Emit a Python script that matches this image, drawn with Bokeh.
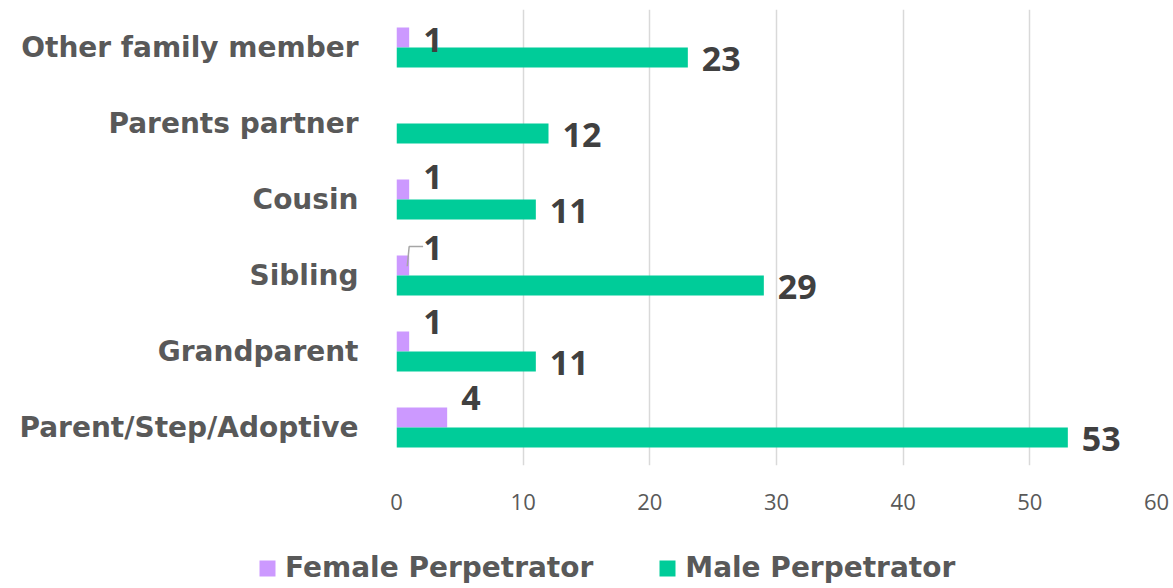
from bokeh.plotting import figure
from bokeh.layouts import column
from bokeh.models import ColumnDataSource, FactorRange, Range1d, Legend, LegendItem, FixedTicker
from bokeh.transform import dodge
from bokeh.core.properties import value
from bokeh.embed import file_html
from bokeh.resources import INLINE

# ---- data (bottom to top) ----
categories = ["Parent/Step/Adoptive", "Grandparent", "Sibling", "Cousin",
              "Parents partner", "Other family member"]
female = [4, 1, 1, 1, None, 1]
male = [53, 11, 29, 11, 12, 23]
x_ticks = [0, 10, 20, 30, 40, 50, 60]
series_names = ["Female Perpetrator", "Male Perpetrator"]

# ---- styling ----
FEMALE_COLOR = "#CC99FF"
MALE_COLOR = "#00CC99"
BAR_H = 0.263
DODGE = 0.1316
female_label_dy = [-19, -19, -17, -12, 0, 3]   # label placement tweaks (px)
male_label_dy = 1

f_idx = [i for i, v in enumerate(female) if v is not None]
fsrc = ColumnDataSource(dict(
    cat=[categories[i] for i in f_idx],
    val=[female[i] for i in f_idx],
    txt=[str(female[i]) for i in f_idx],
    dy=[female_label_dy[i] for i in f_idx],
))
msrc = ColumnDataSource(dict(
    cat=categories, val=male, txt=[str(v) for v in male],
    dy=[male_label_dy] * len(male),
))

p = figure(width=1173, height=530,
           y_range=FactorRange(factors=categories),
           x_range=Range1d(0, 60),
           output_backend="svg", toolbar_location=None,
           min_border_left=396, min_border_right=17,
           min_border_top=9, min_border_bottom=65)
p.frame_align = False

p.outline_line_color = None
p.background_fill_color = "white"
p.border_fill_color = "white"
p.ygrid.grid_line_color = None
p.xgrid.grid_line_color = "#D9D9D9"
p.xgrid.grid_line_width = 1.5

p.xaxis.ticker = FixedTicker(ticks=x_ticks)
p.xaxis.axis_line_color = None
p.xaxis.major_tick_line_color = None
p.xaxis.minor_tick_line_color = None
p.xaxis.major_label_text_font = "Open Sans"
p.xaxis.major_label_text_font_size = "22px"
p.xaxis.major_label_text_color = "#595959"
p.xaxis.major_label_standoff = 22

p.yaxis.axis_line_color = None
p.yaxis.major_tick_line_color = None
p.yaxis.minor_tick_line_color = None
p.yaxis.major_label_text_font = "DejaVu Sans"
p.yaxis.major_label_text_font_style = "bold"
p.yaxis.major_label_text_font_size = "28px"
p.yaxis.major_label_text_color = "#595959"
p.yaxis.major_label_standoff = 32

p.hbar(y=dodge("cat", DODGE, range=p.y_range), left=0, right="val",
       height=BAR_H, source=fsrc, fill_color=FEMALE_COLOR, line_color=None)
p.hbar(y=dodge("cat", -DODGE, range=p.y_range), left=0, right="val",
       height=BAR_H, source=msrc, fill_color=MALE_COLOR, line_color=None)

for src, d in ((fsrc, DODGE), (msrc, -DODGE)):
    p.text(x="val", y=dodge("cat", d, range=p.y_range), text="txt", source=src,
           x_offset=14, y_offset="dy", text_align="left", text_baseline="middle",
           text_font=value("Open Sans"), text_font_style="bold",
           text_font_size="34px", text_color="#404040")

# leader line for the Sibling female label
si = categories.index("Sibling")
sv = female[si]
p.line(x=[sv * 0.85, sv * 1.0, sv + 1.1],
       y=[(categories[si], DODGE - 0.01), (categories[si], DODGE + 0.25),
          (categories[si], DODGE + 0.25)],
       line_color="#A6A6A6", line_width=1.5)

# ---- legend strip ----
lf = figure(width=1173, height=58, x_range=Range1d(0, 1), y_range=Range1d(0, 1),
            x_axis_location=None, y_axis_location=None,
            output_backend="svg", toolbar_location=None,
            min_border_left=0, min_border_right=0, min_border_top=0, min_border_bottom=0)
lf.frame_align = False
lf.grid.visible = False
lf.outline_line_color = None
lf.background_fill_color = "white"
lf.border_fill_color = "white"
# zero-size proxies so the legend can draw its swatches
proxy = ColumnDataSource(dict(y=[-5], right=[0]))
lr_f = lf.hbar(y="y", left=0, right="right", height=0.01, source=proxy,
               fill_color=FEMALE_COLOR, line_color=None)
lr_m = lf.hbar(y="y", left=0, right="right", height=0.01, source=proxy,
               fill_color=MALE_COLOR, line_color=None)

legend = Legend(items=[LegendItem(label=series_names[0], renderers=[lr_f]),
                       LegendItem(label=series_names[1], renderers=[lr_m])],
                orientation="horizontal", location=(257, 4),
                border_line_color=None, background_fill_alpha=0,
                padding=0, margin=0, spacing=64,
                glyph_width=20, glyph_height=20, label_standoff=8,
                label_text_font="DejaVu Sans", label_text_font_style="bold",
                label_text_font_size="28px", label_text_color="#595959")
lf.add_layout(legend)

layout = column(p, lf, spacing=0)
open("out.html", "w").write(file_html(layout, INLINE))
